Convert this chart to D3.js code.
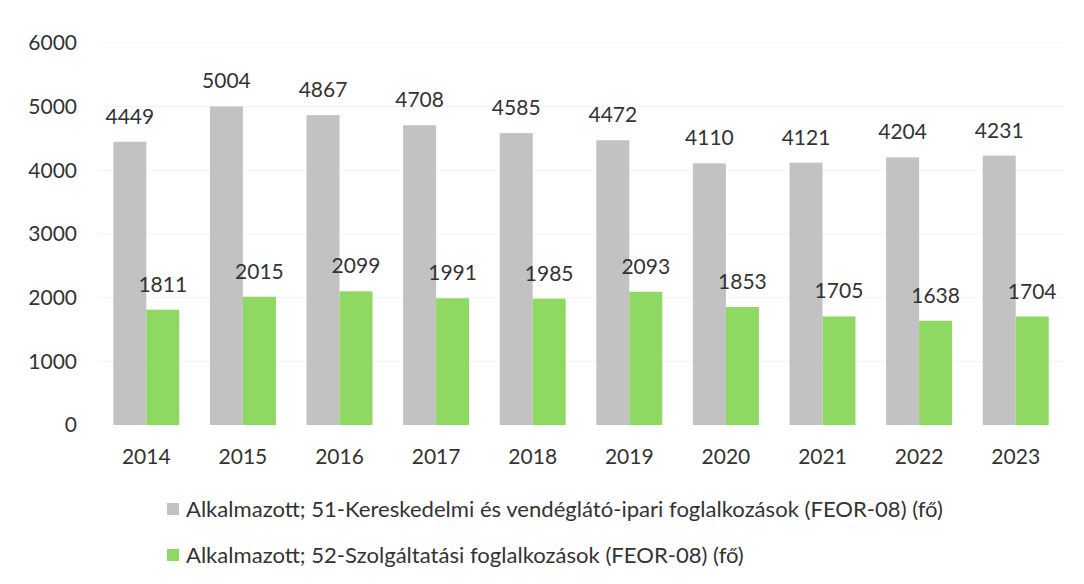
<!DOCTYPE html>
<html>
<head>
<meta charset="utf-8">
<script src="https://cdn.jsdelivr.net/npm/d3@7"></script>
<style>
  html, body { margin: 0; padding: 0; background: #ffffff; }
  svg { display: block; }
</style>
</head>
<body>
<svg id="chart" width="1084" height="584"></svg>
<script>
const years = ["2014","2015","2016","2017","2018","2019","2020","2021","2022","2023"];
const series51 = [4449, 5004, 4867, 4708, 4585, 4472, 4110, 4121, 4204, 4231];
const series52 = [1811, 2015, 2099, 1991, 1985, 2093, 1853, 1705, 1638, 1704];
const seriesNames = [
  "Alkalmazott; 51-Kereskedelmi és vendéglátó-ipari foglalkozások (FEOR-08) (fő)",
  "Alkalmazott; 52-Szolgáltatási foglalkozások (FEOR-08) (fő)"
];
const yTicks = [0, 1000, 2000, 3000, 4000, 5000, 6000];

const colors = ["#c2c2c2", "#8fd862"];
const textColor = "#333333";
const font = "Lato, 'Open Sans', sans-serif";
const numSize = 21;

const svg = d3.select("#chart");
const y = d3.scaleLinear().domain([0, 6000]).range([425, 43]);
const x = d3.scaleBand().domain(years).range([98, 1064]).paddingInner(0.317).paddingOuter(0.1585);
const xs = d3.scaleBand().domain([0, 1]).range([0, x.bandwidth()]);

// gridlines
svg.append("g").selectAll("line").data(yTicks.filter(d => d > 0)).join("line")
  .attr("x1", 98).attr("x2", 1064)
  .attr("y1", d => y(d)).attr("y2", d => y(d))
  .attr("stroke", "#f3f3f3").attr("stroke-width", 1);

// y axis
const yAxis = d3.axisLeft(y).tickValues(yTicks).tickSize(0).tickPadding(0).tickFormat(d3.format("d"));
const yg = svg.append("g").attr("transform", "translate(77,0)").call(yAxis);
yg.select(".domain").remove();
yg.selectAll("text").attr("font-family", font).attr("font-size", numSize).attr("fill", textColor);

// bars
const data = years.map((yr, i) => ({ yr, vals: [series51[i], series52[i]] }));
const groups = svg.append("g").selectAll("g").data(data).join("g")
  .attr("transform", d => `translate(${x(d.yr)},0)`);
groups.selectAll("rect").data(d => d.vals.map((v, k) => ({ v, k }))).join("rect")
  .attr("x", d => xs(d.k)).attr("width", xs.bandwidth())
  .attr("y", d => y(d.v)).attr("height", d => y(0) - y(d.v))
  .attr("fill", d => colors[d.k]);
groups.selectAll("text").data(d => d.vals.map((v, k) => ({ v, k }))).join("text")
  .attr("x", d => xs(d.k) + xs.bandwidth() / 2)
  .attr("y", d => y(d.v) - 18)
  .attr("text-anchor", "middle")
  .attr("font-family", font).attr("font-size", numSize).attr("fill", textColor)
  .text(d => d.v);

// x axis
const xAxis = d3.axisBottom(x).tickSize(0).tickPadding(0);
const xg = svg.append("g").attr("transform", "translate(0,444)").call(xAxis);
xg.select(".domain").remove();
xg.selectAll("text").attr("font-family", font).attr("font-size", numSize).attr("fill", textColor).attr("dy", "0.95em");

// legend
const leg = svg.append("g").selectAll("g").data(seriesNames).join("g")
  .attr("transform", (d, i) => `translate(167,${509 + i * 46})`);
leg.append("rect").attr("x", 0).attr("y", -6).attr("width", 12).attr("height", 12)
  .attr("fill", (d, i) => colors[i]);
const legText = leg.append("text").attr("x", 19).attr("y", 0).attr("dy", "0.35em")
  .attr("font-family", font).attr("font-size", 19).attr("fill", textColor)
  .text(d => d);
// fit first row to the reference width, use same size for both rows
const w0 = legText.filter((d, i) => i === 0).node().getComputedTextLength();
legText.attr("font-size", 19 * 757 / w0);
</script>
</body>
</html>
